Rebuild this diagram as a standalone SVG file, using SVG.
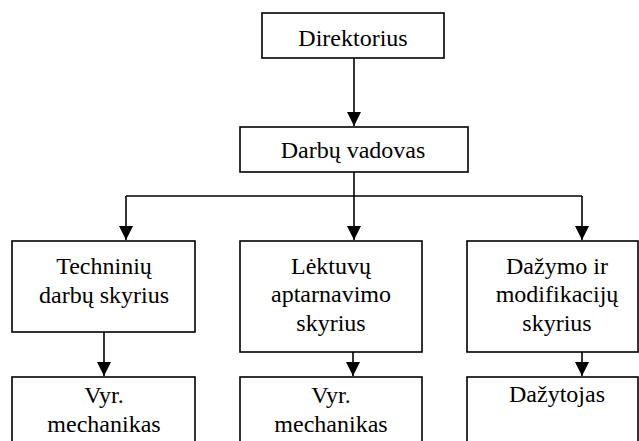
<svg xmlns="http://www.w3.org/2000/svg" width="639" height="441" viewBox="0 0 639 441">
  <defs>
    <marker id="arrow" markerUnits="userSpaceOnUse" markerWidth="14" markerHeight="15" refX="14" refY="7" orient="auto">
      <path d="M0,0 L14,7 L0,14 Z" fill="#000"/>
    </marker>
    <style>
      .box { fill: #fff; stroke: #000; stroke-width: 1.6; }
      .lbl { font-family: "Liberation Serif", Tinos, "Noto Serif", "DejaVu Serif", "Times New Roman", Times, serif; font-size: 24px; fill: #000; text-anchor: middle; }
      .wire { fill: none; stroke: #000; stroke-width: 1.6; }
    </style>
  </defs>
  <rect width="639" height="441" fill="#fff"/>

  <!-- hierarchy links -->
  <g id="connectors">
    <path class="wire" d="M354,58 V126" marker-end="url(#arrow)"/>
    <path class="wire" d="M354,172 V196"/>
    <path class="wire" d="M126,196 H582"/>
    <path class="wire" d="M126,196 V240" marker-end="url(#arrow)"/>
    <path class="wire" d="M354,196 V240" marker-end="url(#arrow)"/>
    <path class="wire" d="M582,196 V240" marker-end="url(#arrow)"/>
    <path class="wire" d="M104,332 V376" marker-end="url(#arrow)"/>
    <path class="wire" d="M353,352 V376" marker-end="url(#arrow)"/>
    <path class="wire" d="M582,352 V376" marker-end="url(#arrow)"/>
  </g>

  <g id="direktorius">
    <rect class="box" x="262" y="13" width="182" height="45"/>
    <text class="lbl" x="353" y="46">Direktorius</text>
  </g>
  <g id="darbu-vadovas">
    <rect class="box" x="240" y="127" width="228" height="45"/>
    <text class="lbl" x="353" y="158">Darbų vadovas</text>
  </g>
  <g id="techniniu-skyrius">
    <rect class="box" x="12" y="241" width="183" height="91"/>
    <text class="lbl" x="104" y="274">Techninių</text>
    <text class="lbl" x="104" y="303">darbų skyrius</text>
  </g>
  <g id="aptarnavimo-skyrius">
    <rect class="box" x="240" y="241" width="182" height="111"/>
    <text class="lbl" x="331" y="274">Lėktuvų</text>
    <text class="lbl" x="331" y="302">aptarnavimo</text>
    <text class="lbl" x="331" y="331">skyrius</text>
  </g>
  <g id="dazymo-skyrius">
    <rect class="box" x="467" y="241" width="171" height="111"/>
    <text class="lbl" x="557" y="274">Dažymo ir</text>
    <text class="lbl" x="557" y="302">modifikacijų</text>
    <text class="lbl" x="557" y="331">skyrius</text>
  </g>
  <g id="vyr-mechanikas-1">
    <rect class="box" x="12" y="377" width="183" height="70"/>
    <text class="lbl" x="104" y="403">Vyr.</text>
    <text class="lbl" x="104" y="432">mechanikas</text>
  </g>
  <g id="vyr-mechanikas-2">
    <rect class="box" x="240" y="377" width="182" height="70"/>
    <text class="lbl" x="331" y="403">Vyr.</text>
    <text class="lbl" x="331" y="432">mechanikas</text>
  </g>
  <g id="dazytojas">
    <rect class="box" x="467" y="377" width="171" height="70"/>
    <text class="lbl" x="557" y="402">Dažytojas</text>
  </g>
</svg>
